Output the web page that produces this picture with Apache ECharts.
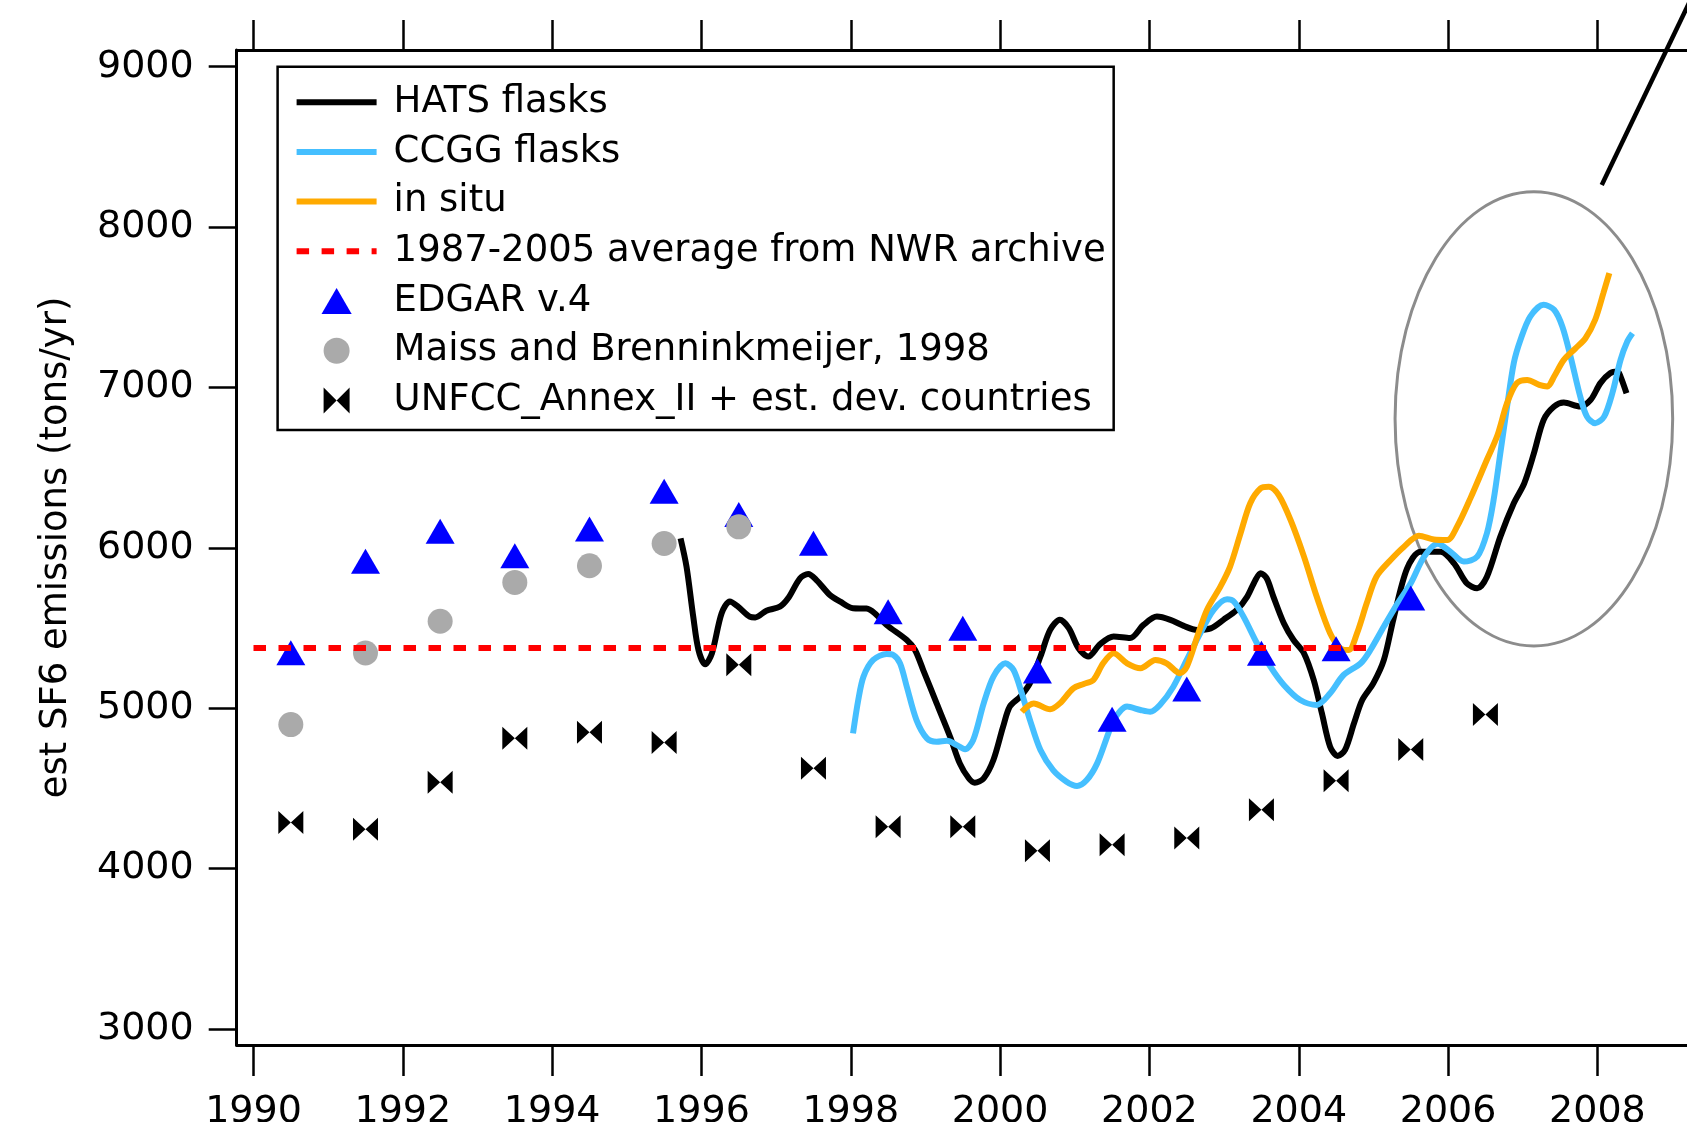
<!DOCTYPE html>
<html>
<head>
<meta charset="utf-8">
<script src="https://cdn.jsdelivr.net/npm/echarts@6/dist/echarts.min.js"></script>
<style>
html,body{margin:0;padding:0;background:#fff;}
#chart{width:1687px;height:1122px;}
</style>
</head>
<body>
<div id="chart"></div>
<script>
// ---------- data ----------
const xTicks = [1990, 1992, 1994, 1996, 1998, 2000, 2002, 2004, 2006, 2008];
const yTicks = [3000, 4000, 5000, 6000, 7000, 8000, 9000];

const seriesNames = [
  'HATS flasks',
  'CCGG flasks',
  'in situ',
  '1987-2005 average from NWR archive',
  'EDGAR v.4',
  'Maiss and Brenninkmeijer, 1998',
  'UNFCC_Annex_II + est. dev. countries'
];

const hats = [
  [1995.72,6059],[1995.80,5882],[1995.89,5570],[1995.96,5363],[1996.05,5274],[1996.14,5342],
  [1996.27,5592],[1996.38,5665],[1996.49,5633],[1996.65,5570],[1996.72,5566],[1996.87,5608],
  [1997.05,5633],[1997.16,5685],[1997.32,5810],[1997.43,5837],[1997.54,5799],[1997.72,5706],
  [1997.86,5664],[1998.03,5623],[1998.21,5621],[1998.32,5592],[1998.48,5519],[1998.75,5425],
  [1998.86,5363],[1998.97,5238],[1999.15,5030],[1999.33,4822],[1999.46,4656],[1999.58,4563],
  [1999.66,4535],[1999.78,4563],[1999.91,4677],[2000.04,4885],[2000.13,5010],[2000.27,5072],
  [2000.40,5156],[2000.54,5322],[2000.67,5488],[2000.80,5551],[2000.92,5499],[2001.05,5374],
  [2001.18,5322],[2001.34,5400],[2001.52,5447],[2001.74,5437],[2001.92,5519],[2002.10,5571],
  [2002.28,5551],[2002.46,5513],[2002.64,5488],[2002.82,5498],[2002.99,5551],[2003.17,5613],
  [2003.31,5696],[2003.42,5800],[2003.49,5842],[2003.57,5810],[2003.66,5696],[2003.80,5530],
  [2003.93,5425],[2004.07,5342],[2004.20,5176],[2004.31,4968],[2004.42,4760],[2004.52,4702],
  [2004.62,4740],[2004.74,4906],[2004.85,5051],[2005.00,5156],[2005.14,5301],[2005.27,5560],
  [2005.45,5870],[2005.63,5976],[2005.90,5976],[2006.08,5903],[2006.25,5779],[2006.39,5748],
  [2006.52,5820],[2006.70,6070],[2006.88,6278],[2007.02,6402],[2007.15,6590],[2007.28,6798],
  [2007.42,6881],[2007.55,6906],[2007.77,6881],[2007.91,6923],[2008.04,7027],[2008.17,7089],
  [2008.27,7099],[2008.31,7068],[2008.39,6964]
];

const ccgg = [
  [1998.03,4843],[1998.10,5051],[1998.17,5197],[1998.30,5301],[1998.48,5338],[1998.57,5332],
  [1998.66,5280],[1998.75,5134],[1998.88,4926],[1999.02,4812],[1999.15,4791],[1999.29,4797],
  [1999.42,4770],[1999.53,4744],[1999.64,4802],[1999.78,5030],[1999.91,5197],[2000.07,5280],
  [2000.18,5238],[2000.29,5093],[2000.40,4926],[2000.54,4739],[2000.71,4614],[2000.89,4542],
  [2001.03,4515],[2001.16,4552],[2001.30,4656],[2001.45,4843],[2001.52,4926],[2001.70,5010],
  [2001.88,4989],[2002.01,4978],[2002.14,5020],[2002.32,5134],[2002.50,5301],[2002.68,5467],
  [2002.86,5613],[2003.04,5679],[2003.13,5665],[2003.26,5571],[2003.44,5405],[2003.62,5259],
  [2003.80,5145],[2004.02,5051],[2004.24,5020],[2004.42,5093],[2004.60,5207],[2004.83,5280],
  [2004.96,5363],[2005.14,5509],[2005.32,5650],[2005.50,5779],[2005.68,5945],[2005.86,6025],
  [2006.03,5976],[2006.21,5914],[2006.39,5945],[2006.52,6091],[2006.61,6299],[2006.70,6590],
  [2006.79,6881],[2006.88,7152],[2006.97,7297],[2007.10,7442],[2007.28,7515],[2007.42,7484],
  [2007.53,7380],[2007.64,7193],[2007.77,6943],[2007.86,6818],[2007.97,6777],[2008.09,6818],
  [2008.20,6964],[2008.31,7172],[2008.40,7286],[2008.47,7338]
];

const inSitu = [
  [2000.29,4978],[2000.45,5030],[2000.67,4993],[2000.80,5030],[2000.98,5124],[2001.12,5151],
  [2001.25,5176],[2001.38,5280],[2001.52,5342],[2001.70,5280],[2001.88,5249],[2002.08,5301],
  [2002.23,5280],[2002.41,5218],[2002.50,5259],[2002.64,5446],[2002.77,5613],[2002.95,5758],
  [2003.08,5883],[2003.22,6090],[2003.35,6278],[2003.49,6371],[2003.60,6381],[2003.73,6330],
  [2003.89,6174],[2004.07,5945],[2004.24,5696],[2004.42,5467],[2004.56,5373],[2004.67,5363],
  [2004.78,5467],[2004.91,5654],[2005.04,5820],[2005.23,5924],[2005.41,6007],[2005.61,6075],
  [2005.81,6052],[2005.99,6049],[2006.12,6132],[2006.30,6310],[2006.52,6549],[2006.66,6700],
  [2006.79,6902],[2006.92,7027],[2007.06,7047],[2007.22,7016],[2007.33,7006],[2007.42,7068],
  [2007.55,7172],[2007.71,7245],[2007.84,7307],[2007.97,7422],[2008.08,7588],[2008.16,7713]
];

const nwrAverage = [[1990, 5375], [2005, 5375]];

const yearsMid = [1990.5,1991.5,1992.5,1993.5,1994.5,1995.5,1996.5,1997.5,1998.5,1999.5,
                  2000.5,2001.5,2002.5,2003.5,2004.5,2005.5,2006.5];
const edgarValues = [5345,5916,6103,5951,6118,6352,6207,6028,5601,5499,5232,4931,5119,5342,5370,5687];
const maissValues = [4898,5344,5542,5784,5888,6027,6131];
const unfccValues = [4288,4246,4538,4813,4850,4786,5271,4625,4261,4261,4111,4148,4190,4367,4548,4742,4961];

// annotation (data coordinates): ellipse around 2006-2008 and pointer line
const ellipseCenter = [2007.149, 6804];
const ellipseRadii = [1.859, 1416];
const pointerLine = [[2008.058, 8262], [2009.247, 9416]];

// ---------- chart ----------
const FONT = 'DejaVu Sans';
const chart = echarts.init(document.getElementById('chart'), null, {renderer: 'canvas'});

const pair = (xs, vs) => vs.map((v, i) => [xs[i], v]);
const bowtie = 'path://M0,0L0,10L5,5ZM10,0L10,10L5,5Z';
const triangle = 'path://M14.5,0L29,25L0,25Z';

const xMin = 1989.775, xMax = 2009.2;
const yMin = 2900, yMax = 9104;

const baseX = {
  type: 'value', min: xMin, max: xMax,
  splitLine: {show: false},
  axisLine: {show: true, onZero: false, lineStyle: {color: '#000', width: 3}},
  axisTick: {show: true, inside: false, length: 31, customValues: xTicks, lineStyle: {color: '#000', width: 2.5}}
};

const hideSym = {color: 'rgba(0,0,0,0)', borderWidth: 0};
const LW = 6;

const option = {
  animation: false,
  backgroundColor: '#fff',
  grid: {left: 236.7, right: 0, top: 50, bottom: 77, containLabel: false, outerBoundsMode: 'none'},
  xAxis: [
    Object.assign({}, baseX, {
      position: 'bottom',
      axisLabel: {show: true, customValues: xTicks, margin: 48, fontSize: 38, fontFamily: FONT, color: '#000',
                  formatter: v => String(Math.round(v))}
    }),
    Object.assign({}, baseX, {
      position: 'top',
      axisTick: {show: true, inside: false, length: 30, customValues: xTicks, lineStyle: {color: '#000', width: 2.5}},
      axisLabel: {show: false}
    })
  ],
  yAxis: {
    type: 'value', min: yMin, max: yMax,
    splitLine: {show: false},
    axisLine: {show: true, onZero: false, lineStyle: {color: '#000', width: 3}},
    axisTick: {show: true, inside: false, length: 28, customValues: yTicks, lineStyle: {color: '#000', width: 2.5}},
    axisLabel: {show: true, customValues: yTicks, margin: 43, fontSize: 38, fontFamily: FONT, color: '#000',
                formatter: v => String(Math.round(v))},
    name: 'est SF6 emissions (tons/yr)',
    nameLocation: 'middle',
    nameGap: 162,
    nameTextStyle: {fontSize: 37, fontFamily: FONT, color: '#000'}
  },
  legend: {
    orient: 'vertical',
    left: 277.6, top: 66.7,
    itemWidth: 80, itemHeight: 26, itemGap: 12.7,
    padding: [17, 8, 11, 16],
    borderColor: '#000', borderWidth: 2.5,
    backgroundColor: '#fff',
    selectedMode: false,
    symbolKeepAspect: true,
    lineStyle: {width: LW},
    textStyle: {fontSize: 37, fontFamily: FONT, color: '#000', lineHeight: 37, padding: [0, 0, 0, 12]},
    data: [
      {name: seriesNames[0], itemStyle: hideSym, lineStyle: {width: LW}},
      {name: seriesNames[1], itemStyle: hideSym, lineStyle: {width: LW}},
      {name: seriesNames[2], itemStyle: hideSym, lineStyle: {width: LW}},
      {name: seriesNames[3], itemStyle: hideSym, lineStyle: {width: LW}},
      {name: seriesNames[4]},
      {name: seriesNames[5]},
      {name: seriesNames[6]}
    ]
  },
  series: [
    {name: seriesNames[0], type: 'line', data: hats, symbol: 'none', smooth: 0.3, z: 2,
     lineStyle: {color: '#000000', width: LW}, itemStyle: {color: '#000000'}},
    {name: seriesNames[1], type: 'line', data: ccgg, symbol: 'none', smooth: 0.3, z: 2,
     lineStyle: {color: '#45BFFF', width: LW}, itemStyle: {color: '#45BFFF'}},
    {name: seriesNames[2], type: 'line', data: inSitu, symbol: 'none', smooth: 0.3, z: 2,
     lineStyle: {color: '#FFAA00', width: LW}, itemStyle: {color: '#FFAA00'}},
    {name: seriesNames[3], type: 'line', data: nwrAverage, symbol: 'none', z: 6,
     lineStyle: {color: '#FF0000', width: 6, type: [12.5, 12.5]}, itemStyle: {color: '#FF0000'}},
    {name: seriesNames[4], type: 'scatter', data: pair(yearsMid, edgarValues), symbol: triangle,
     symbolSize: [29, 25], z: 3, itemStyle: {color: '#0000FF', opacity: 1}},
    {name: seriesNames[5], type: 'scatter', data: pair(yearsMid, maissValues), symbol: 'circle',
     symbolSize: 25, z: 4, itemStyle: {color: '#AAAAAA', opacity: 1}},
    {name: seriesNames[6], type: 'scatter', data: pair(yearsMid, unfccValues), symbol: bowtie,
     symbolSize: [25, 23], z: 4, itemStyle: {color: '#000000', opacity: 1}}
  ]
};

chart.setOption(option);

// annotations positioned through the chart's own axes
const toPx = p => chart.convertToPixel({xAxisIndex: 0, yAxisIndex: 0}, p);
const c = toPx(ellipseCenter);
const r = toPx([ellipseCenter[0] + ellipseRadii[0], ellipseCenter[1] + ellipseRadii[1]]);
const p1 = toPx(pointerLine[0]);
const p2 = toPx(pointerLine[1]);
chart.setOption({
  graphic: [
    {type: 'ellipse', z: 1, silent: true,
     shape: {cx: c[0], cy: c[1], rx: Math.abs(r[0] - c[0]), ry: Math.abs(c[1] - r[1])},
     style: {fill: 'none', stroke: '#8C8C8C', lineWidth: 3}},
    {type: 'line', z: 10, silent: true,
     shape: {x1: p1[0], y1: p1[1], x2: p2[0], y2: p2[1]},
     style: {stroke: '#000000', lineWidth: 4.5}}
  ]
});
</script>
</body>
</html>
